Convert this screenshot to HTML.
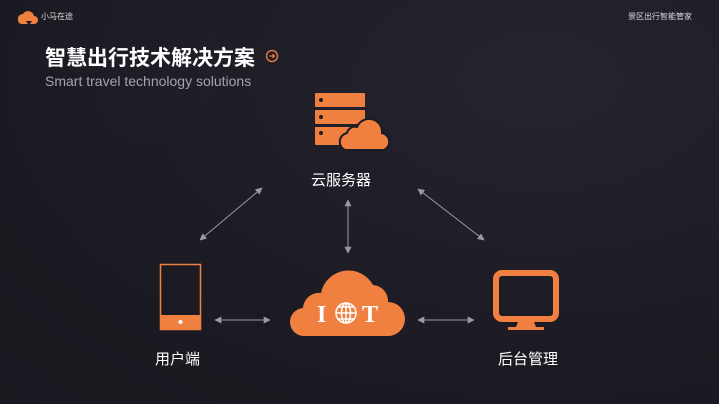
<!DOCTYPE html>
<html><head><meta charset="utf-8"><style>
html,body{margin:0;padding:0}
body{width:719px;height:404px;overflow:hidden;background:radial-gradient(ellipse at 75% 20%,#25232e 0%,#1c1b23 60%,#19181f 100%);font-family:"Liberation Sans","Noto Sans CJK SC",sans-serif;position:relative;color:#fff}
.t{position:absolute;white-space:nowrap}
</style></head><body>
<svg width="719" height="404" style="position:absolute;left:0;top:0">
<defs>
<marker id="a" viewBox="0 0 10 10" refX="9" refY="5" markerWidth="7" markerHeight="7" orient="auto-start-reverse"><path d="M0,0L10,5L0,10z" fill="#9a9aa2"/></marker>
</defs>
<circle cx="140" cy="60" r="80" fill="#2a2535" opacity="0.15"/>
<path d="M18 20 a5 5 0 0 1 5-6 a6 6 0 0 1 11 2 a4 4 0 0 1 0 8 h-4 l2-3 h-6 l2 3 h-5 a4 4 0 0 1-5-4z" fill="#f0803f"/>
<g stroke="#9a9aa2" stroke-width="1" fill="none">
<line x1="200" y1="240" x2="262" y2="188" marker-start="url(#a)" marker-end="url(#a)"/>
<line x1="348" y1="200" x2="348" y2="253" marker-start="url(#a)" marker-end="url(#a)"/>
<line x1="418" y1="189" x2="484" y2="240" marker-start="url(#a)" marker-end="url(#a)"/>
<line x1="215" y1="320" x2="270" y2="320" marker-start="url(#a)" marker-end="url(#a)"/>
<line x1="418" y1="320" x2="474" y2="320" marker-start="url(#a)" marker-end="url(#a)"/>
</g>
<g fill="#f0803f">
<rect x="315" y="93" width="50" height="14" rx="1"/>
<rect x="315" y="110" width="50" height="14" rx="1"/>
<rect x="315" y="127" width="50" height="18" rx="1"/>
</g>
<g fill="#1c1b23"><circle cx="321" cy="100" r="2"/><circle cx="321" cy="117" r="2"/><circle cx="321" cy="133" r="2"/></g>
<path d="M345 150 a9 9 0 0 1 2-17 a8 8 0 0 1 10-6 a13 13 0 0 1 25 6 a9 9 0 0 1 2 17z" fill="#f0803f" stroke="#1c1b23" stroke-width="2"/>
<rect x="160.5" y="264.5" width="40" height="65" fill="none" stroke="#f0803f" stroke-width="1.5"/>
<rect x="160" y="315" width="41" height="15" fill="#f0803f"/>
<circle cx="180.5" cy="322" r="2" fill="#fff"/>
<path d="M305 336 a14 14 0 0 1-2-28 a16 16 0 0 1 18-15 a28 28 0 0 1 52-8 a16 16 0 0 1 15 17 a17 17 0 0 1 0 34z" fill="#f0803f"/>
<text x="317" y="322" font-family="Liberation Serif,serif" font-size="24" font-weight="bold" fill="#fff">I</text>
<text x="362" y="322" font-family="Liberation Serif,serif" font-size="24" font-weight="bold" fill="#fff">T</text>
<g stroke="#fff" stroke-width="1.5" fill="none"><circle cx="346" cy="313" r="10"/><ellipse cx="346" cy="313" rx="4.5" ry="10"/><line x1="336" y1="313" x2="356" y2="313"/><line x1="338" y1="307" x2="354" y2="307"/><line x1="338" y1="319" x2="354" y2="319"/><line x1="346" y1="303" x2="346" y2="323"/></g>
<rect x="496" y="273" width="60" height="46" rx="6" fill="none" stroke="#f0803f" stroke-width="6"/>
<path d="M518 322 h16 l2 5 h8 v3 h-36 v-3 h8z" fill="#f0803f"/>
<circle cx="272" cy="56" r="5.5" fill="none" stroke="#f0803f" stroke-width="1.3"/>
<path d="M269.5 56h5M272.5 54l2 2-2 2" stroke="#f0803f" stroke-width="1.2" fill="none"/>
</svg>
<div class="t" style="left:41px;top:11px;font-size:8px;color:#ddd">小马在途</div>
<div class="t" style="left:628px;top:11px;font-size:8px;color:#ddd">景区出行智能管家</div>
<div class="t" style="left:45px;top:42px;font-size:21px;font-weight:bold">智慧出行技术解决方案</div>
<div class="t" style="left:45px;top:73px;font-size:14px;color:#a4a4ac">Smart travel technology solutions</div>
<div class="t" style="left:311px;top:169px;font-size:15px">云服务器</div>
<div class="t" style="left:155px;top:348px;font-size:15px">用户端</div>
<div class="t" style="left:498px;top:348px;font-size:15px">后台管理</div>
</body></html>
